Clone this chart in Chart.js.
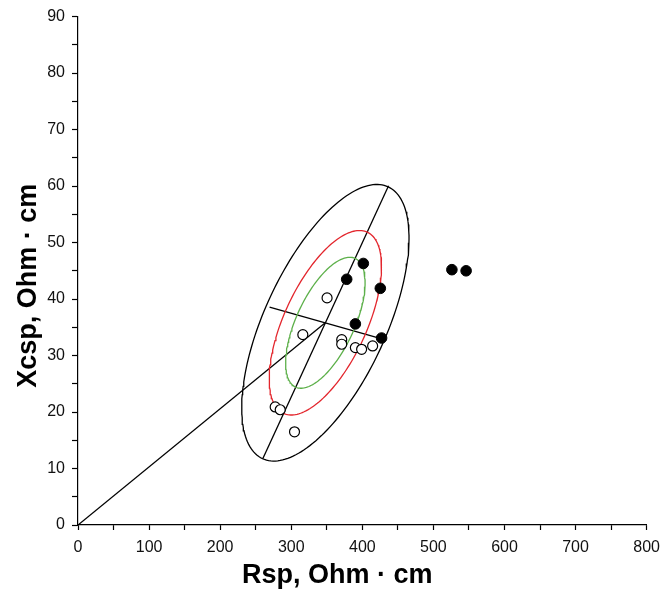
<!DOCTYPE html>
<html>
<head>
<meta charset="utf-8">
<script src="https://cdn.jsdelivr.net/npm/chart.js@4/dist/chart.umd.min.js"></script>
<style>
  html, body { margin: 0; padding: 0; background: #fff; }
  #wrap { width: 668px; height: 602px; }
</style>
</head>
<body>
<div id="wrap"><canvas id="chart" width="668" height="602"></canvas></div>
<script>
// open circles
const openRsp = [350.4, 316.3, 371, 371, 390.2, 399, 414.5, 277.4, 284.5, 304.6];
const openXcsp = [40.2, 33.7, 32.8, 32.0, 31.4, 31.1, 31.7, 20.9, 20.4, 16.5];

// filled circles
const filledRsp = [401.4, 378, 425.3, 390.2, 427.1, 526, 546];
const filledXcsp = [46.3, 43.5, 41.9, 35.6, 33.1, 45.2, 45.0];

// ellipses: shared centre, tip of major and minor semi-axis for each one
const ellipseCenter = [348, 35.8];
const ellipseNames = ['inner', 'middle', 'outer'];
const ellipseColors = ['#5db04a', '#e3262d', '#000000'];
const majorTips = [[389.9, 47.19], [406.95, 51.84], [436.4, 59.86]];
const minorTips = [[385.0, 33.65], [400.6, 32.74], [425.7, 31.27]];

// straight lines
const originLine = [[0, 0], [347, 35.7]];
const majorLine = [[260.1, 11.78], [436.9, 60.07]];
const minorLine = [[269.5, 38.57], [426.2, 33.0]];

const xTitle = 'Rsp, Ohm · cm';
const yTitle = 'Xcsp, Ohm · cm';

const toPoints = (xs, ys) => xs.map((x, i) => ({ x: x, y: ys[i] }));
const pairPoints = pairs => pairs.map(p => ({ x: p[0], y: p[1] }));

const ellipsePoints = (major, minor) => {
    const pts = [];
    const ax = major[0] - ellipseCenter[0], ay = major[1] - ellipseCenter[1];
    const bx = minor[0] - ellipseCenter[0], by = minor[1] - ellipseCenter[1];
    for (let i = 0; i <= 180; i++) {
        const t = i / 180 * Math.PI * 2;
        pts.push({
            x: ellipseCenter[0] + Math.cos(t) * ax + Math.sin(t) * bx,
            y: ellipseCenter[1] + Math.cos(t) * ay + Math.sin(t) * by,
        });
    }
    return pts;
};

const lineSet = (label, pts, color, order) => ({
    label: label,
    data: pts,
    showLine: true,
    borderColor: color,
    borderWidth: 1.3,
    pointRadius: 0,
    fill: false,
    order: order,
});

const datasets = [
    {
        label: 'open',
        data: toPoints(openRsp, openXcsp),
        pointStyle: 'circle',
        pointRadius: 5,
        backgroundColor: '#ffffff',
        borderColor: '#000000',
        borderWidth: 1.2,
        order: 1,
    },
    {
        label: 'filled',
        data: toPoints(filledRsp, filledXcsp),
        pointStyle: 'circle',
        pointRadius: 5.3,
        backgroundColor: '#000000',
        borderColor: '#000000',
        borderWidth: 1,
        order: 0,
    },
    lineSet('origin', pairPoints(originLine), '#000000', 5),
    lineSet('major', pairPoints(majorLine), '#000000', 5),
    lineSet('minor', pairPoints(minorLine), '#000000', 5),
];
ellipseNames.forEach((name, i) => {
    datasets.push(lineSet(name, ellipsePoints(majorTips[i], minorTips[i]), ellipseColors[i], 4));
});

// axis titles sit a bit off-centre in the original, so draw them by hand
const axisTitles = {
    id: 'axisTitles',
    afterDraw(chart) {
        const { ctx, chartArea } = chart;
        ctx.save();
        ctx.fillStyle = '#000';
        ctx.font = 'bold 27px "Liberation Sans", Arial, sans-serif';
        ctx.textAlign = 'center';
        ctx.textBaseline = 'middle';
        ctx.fillText(xTitle, (chartArea.left + chartArea.right) / 2 - 25, chartArea.bottom + 51);
        ctx.translate(29, (chartArea.top + chartArea.bottom) / 2 + 15);
        ctx.rotate(-Math.PI / 2);
        ctx.fillText(yTitle, 0, 0);
        ctx.restore();
    },
};

const ctx = document.getElementById('chart').getContext('2d');
new Chart(ctx, {
    type: 'scatter',
    data: { datasets: datasets },
    plugins: [axisTitles],
    options: {
        responsive: false,
        animation: false,
        layout: { padding: { top: 15, right: 20, left: 0, bottom: 0 } },
        plugins: {
            legend: { display: false },
            tooltip: { enabled: false },
        },
        scales: {
            x: {
                type: 'linear',
                min: 0,
                max: 800,
                border: { display: true, color: '#000', width: 1.2 },
                grid: { drawOnChartArea: false, drawTicks: true, tickLength: 5, color: '#000', tickWidth: 1.2 },
                ticks: {
                    stepSize: 50,
                    autoSkip: false,
                    maxRotation: 0,
                    padding: 8,
                    color: '#111',
                    font: { family: 'Liberation Sans', size: 16 },
                    callback: v => (v % 100 === 0 ? v : ''),
                },
                afterFit: scale => { scale.height = 77; },
            },
            y: {
                type: 'linear',
                min: 0,
                max: 90,
                border: { display: true, color: '#000', width: 1.2 },
                grid: { drawOnChartArea: false, drawTicks: true, tickLength: 6, color: '#000', tickWidth: 1.2 },
                ticks: {
                    stepSize: 5,
                    autoSkip: false,
                    padding: 7,
                    color: '#111',
                    font: { family: 'Liberation Sans', size: 16 },
                    callback: v => (v % 10 === 0 ? v : ''),
                },
                afterFit: scale => { scale.width = 78; },
            },
        },
    },
});
</script>
</body>
</html>
